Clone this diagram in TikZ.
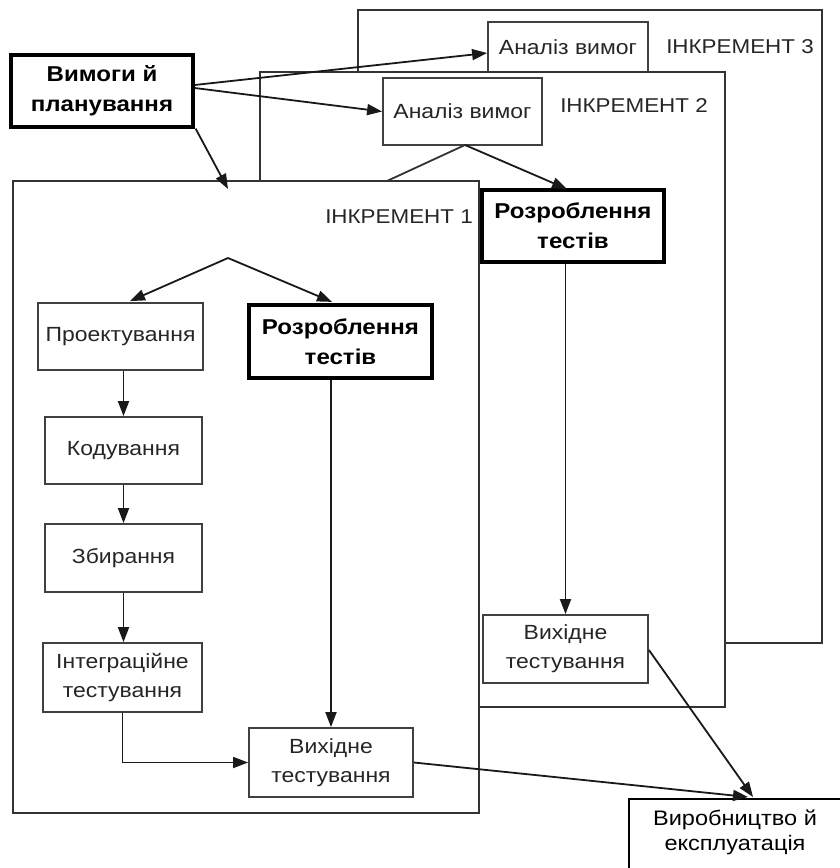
\documentclass[tikz,border=0pt]{standalone}
\usepackage{fontspec}
\setmainfont[FakeStretch=1.12]{Liberation Sans}
\usetikzlibrary{arrows.meta,calc}
\begin{document}
\begin{tikzpicture}[x=1pt,y=-1pt,
  frame/.style={draw=black!80,line width=2pt,fill=white},
  thinbox/.style={draw=black!75,line width=1.8pt,fill=white,inner sep=0pt,align=center,
     text=black!85,font=\fontsize{20.5}{29}\selectfont},
  thickbox/.style={draw=black,line width=3.2pt,fill=white,inner sep=0pt,align=center,
     font=\fontsize{21.5}{30}\selectfont\bfseries},
  inclabel/.style={text=black!85,font=\fontsize{20}{25}\selectfont,inner sep=0pt},
  arr/.style={draw=black!90,line width=1.8pt,-{Triangle[length=15pt,width=11pt]}},
  ln/.style={draw=black!80,line width=1.8pt}]
\useasboundingbox (0,0) rectangle (840,868);
% Increment 3
\draw[frame] (358,10) rectangle (822,643);
\node[inclabel] (l3) at (740,47) {ІНКРЕМЕНТ 3};
\node[thinbox,minimum width=160pt,minimum height=50pt] (a3) at (568,47) {Аналіз вимог};
% Increment 2
\draw[frame] (260,72) rectangle (725,707);
\node[inclabel] (l2) at (634,106) {ІНКРЕМЕНТ 2};
\node[thinbox,minimum width=159pt,minimum height=67pt] (a2) at (462.5,111.5) {Аналіз вимог};
\node[thickbox,minimum width=182pt,minimum height=72pt] (t2) at (573,226) {Розроблення\\тестів};
\node[thinbox,minimum width=165pt,minimum height=68pt] (v2) at (565.5,649) {Вихідне\\тестування};
\coordinate (s2) at (465,145);
\coordinate (s2l) at (387,181);
\draw[ln] (s2) -- (s2l);
\draw[arr] (s2) -- (567,189);
\draw[arr] (v2.north |- t2.south) -- (v2.north);
% Increment 1
\draw[frame] (13,181) rectangle (479,813);
\node[inclabel] (l1) at (399,217) {ІНКРЕМЕНТ 1};
\node[thinbox,minimum width=165pt,minimum height=67pt] (proj) at (120.5,336.5) {Проектування};
\node[thickbox,minimum width=183pt,minimum height=73pt] (t1) at (340.5,341.5) {Розроблення\\тестів};
\node[thinbox,minimum width=157pt,minimum height=67pt] (kod) at (123.5,450.5) {Кодування};
\node[thinbox,minimum width=157pt,minimum height=68pt] (zb) at (123.5,558) {Збирання};
\node[thinbox,minimum width=159pt,minimum height=69pt] (int) at (122.5,677.5) {Інтеграційне\\тестування};
\node[thinbox,minimum width=164pt,minimum height=69pt] (v1) at (331,762.5) {Вихідне\\тестування};
\coordinate (apex) at (228,258);
\draw[arr] (apex) -- ($(proj.north)+(9.5,-1)$);
\draw[arr] (apex) -- ($(t1.north)+(-8.5,-1.5)$);
\draw[arr] (kod.north |- proj.south) -- (kod.north);
\draw[arr] (kod.south) -- (zb.north);
\draw[arr] (zb.south) -- (int.north -| zb.south);
\draw[arr] (v1.north |- t1.south) -- (v1.north);
\draw[arr] (int.south) -- (int.south |- v1.west) -- (v1.west);
% Production
\node[draw=black,line width=2.4pt,fill=white,minimum width=230pt,minimum height=90pt,anchor=north west,inner sep=0pt] (prod) at (628,798) {};
\node[align=center,font=\fontsize{21}{25}\selectfont,inner sep=0pt,anchor=north] (prodt) at (735,810) {Виробництво й\\експлуатація};
\draw[arr] (v1.east) -- (748,797);
\draw[arr] ($(v2.east)+(0,1)$) -- (753,797);
% Requirements
\node[thickbox,minimum width=182pt,minimum height=72pt] (req) at (102,91) {Вимоги й\\планування};
\draw[arr] ($(req.east)+(0,-6)$) -- ($(a3.west)+(0,6)$);
\draw[arr] ($(req.east)+(0,-3)$) -- (a2.west);
\draw[arr] ($(req.south east)+(1,0)$) -- (228,189);
\end{tikzpicture}
\end{document}
